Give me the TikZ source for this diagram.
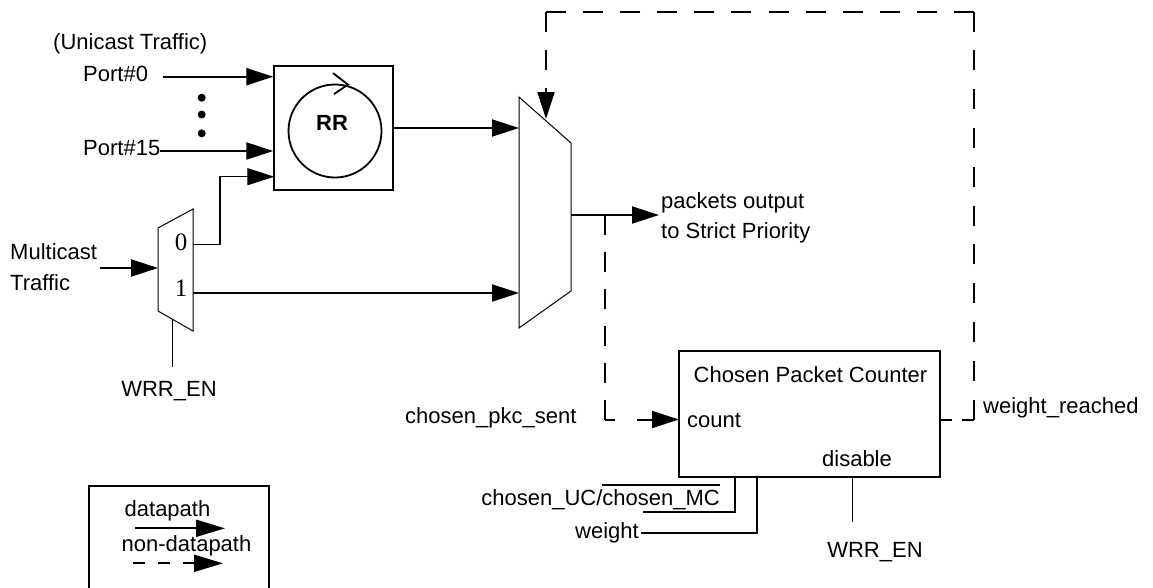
\documentclass[tikz,border=0pt]{standalone}
\usepackage{fontspec}
\setmainfont{Liberation Sans}
\newfontfamily\serifdig{Liberation Serif}
\usetikzlibrary{arrows.meta}
\begin{document}
\begin{tikzpicture}[x=1pt,y=-1pt,
  font=\fontsize{22}{30}\selectfont,
  lbl/.style={inner sep=0pt, anchor=base west},
  tipbig/.style={-{Triangle[length=27pt,width=17pt]}},
  dat/.style={line width=2pt, tipbig},
  dsh/.style={line width=2pt, dash pattern=on 20pt off 18pt},
  legdash/.style={line width=2pt, dash pattern=on 12pt off 13pt, -{Triangle[length=29pt,width=17pt]}},
  legsolid/.style={line width=2pt, -{Triangle[length=29pt,width=17pt]}},
  muxline/.style={line width=1pt},
  wire/.style={line width=2pt},
  digit/.style={inner sep=0pt, anchor=base, font=\serifdig\fontsize{25}{25}\selectfont}]
\useasboundingbox (0,0) rectangle (1153,587);

% ---------- unicast inputs ----------
\node[lbl] (uni) at (53,49) {(Unicast Traffic)};
\node[lbl] (p0) at (83,81) {Port\#0};
\node[lbl] (p15) at (83,155) {Port\#15};
\fill (201.7,97.7) circle[radius=4pt];
\fill (201.7,114.5) circle[radius=4pt];
\fill (201.7,133.3) circle[radius=4pt];

% ---------- RR box ----------
\node[draw, line width=2pt, minimum width=119pt, minimum height=124pt, inner sep=0pt] (rr) at (333.8,127.9) {};
\node[draw, circle, line width=1.8pt, minimum size=93pt, inner sep=0pt] (ring) at (335,131) {};
\draw[line width=1.8pt] ([shift={(-2,-10.5)}]ring.north) -- ([shift={(13,1)}]ring.north) -- ([shift={(-1,10.5)}]ring.north);
\node[inner sep=0pt, anchor=base] (rrtxt) at (332,130) {\bfseries RR};

\coordinate (p0s) at (163,76.7);
\coordinate (p15s) at (160,151);
\draw[dat] (p0s) -- (p0s -| rr.west);
\draw[dat] (p15s) -- (p15s -| rr.west);

% ---------- small demux ----------
\draw[muxline] (158,228) -- (193,209) -- (193,331) -- (158,311) -- cycle;
\coordinate (smin) at (158,268);
\coordinate (sm0) at (193,244.3);
\coordinate (sm1) at (193,293);
\coordinate (smsel) at (172.7,318.5);
\coordinate (rrin3) at (274.3,176.7);
\node[digit] (d0) at (181,250.7) {0};
\node[digit] (d1) at (181,296.7) {1};
\node[lbl] (mc1) at (10,259.3) {Multicast};
\node[lbl] (mc2) at (10,290) {Traffic};
\coordinate (mcs) at (100,268);
\draw[dat] (mcs) -- (smin);
\draw[line width=1.2pt, tipbig] (sm0) -- ++(27,0) |- (rrin3);
\node[inner sep=0pt, anchor=base] (wrr1) at (169,396) {WRR\_EN};
\draw[line width=1.5pt] (smsel) -- (172.7,367);

% ---------- big mux ----------
\draw[muxline] (519,97) -- (571,143) -- (571,291) -- (519,328) -- cycle;
\coordinate (bmin0) at (519,128);
\coordinate (bmin1) at (519,293);
\coordinate (bmout) at (571,215);
\coordinate (bmtop) at (546,119);
\draw[dat] (rr.east |- bmin0) -- (bmin0);
\draw[wire, tipbig] (sm1) -- (bmin1);
\coordinate (pkt) at (659,215);
\draw[dat] (bmout) -- (pkt);
\node[lbl] (po1) at (661,208.3) {packets output};
\node[lbl] (po2) at (661,238.3) {to Strict Priority};

% ---------- counter ----------
\node[draw, line width=2pt, minimum width=261pt, minimum height=126pt, inner sep=0pt] (cnt) at (809.5,413.5) {};
\node[inner sep=0pt, anchor=base] (cnttitle) at (810.5,382.3) {Chosen Packet Counter};
\node[lbl] (cntcount) at (687,427.3) {count};
\node[inner sep=0pt, anchor=base] (cntdis) at (857,466) {disable};

% chosen_pkc_sent (non-datapath)
\coordinate (tap) at (605,215);
\coordinate (lc) at (605,419.5);
\coordinate (cntin) at (679,419.5);
\draw[line width=2pt, dash pattern=on 20pt off 16.9pt] (lc) -- (tap);
\draw[line width=2pt, dash pattern=on 10pt off 22pt on 200pt, tipbig] (lc) -- (cntin);
\node[lbl] (cps) at (405,423.3) {chosen\_pkc\_sent};

% weight_reached (non-datapath)
\coordinate (cntout) at (940,419.5);
\coordinate (rc1) at (974,419.5);
\coordinate (rc2) at (974,12);
\coordinate (rc3) at (546,12);
\draw[line width=2pt, dash pattern=on 12pt off 10pt on 20pt] (cntout) -- (rc1);
\draw[line width=2pt, dash pattern=on 20pt off 18.8pt] (rc1) -- (rc2);
\draw[line width=2pt, dash pattern=on 20pt off 17.1pt] (rc2) -- (rc3);
\draw[dsh, tipbig] (rc3) -- (bmtop);
\node[lbl] (wr) at (983,413) {weight\_reached};

\coordinate (dis) at (852.7,476.5);
\draw[line width=1.5pt] (dis) -- (852.7,522);
\node[inner sep=0pt, anchor=base] (wrr2) at (875,557.7) {WRR\_EN};

\node[inner sep=0pt, anchor=base east] (cuc) at (720,505) {chosen\_UC/chosen\_MC};
\draw[wire] (602,485) -- (720,485);
\coordinate (cb1) at (735,476.5);
\draw[wire] (cb1) -- (735,512) -- (643,512);
\node[inner sep=0pt, anchor=base east] (wt) at (639,538.3) {weight};
\coordinate (cb2) at (757,476.5);
\draw[wire] (cb2) -- (757,533.3) -- (641,533.3);

% ---------- legend ----------
\draw[wire] (89,592) -- (89,486) -- (269,486) -- (269,592);
\node[inner sep=0pt, anchor=base] (lg1) at (167.5,516.7) {datapath};
\node[inner sep=0pt, anchor=base] (lg2) at (186.5,551.7) {non-datapath};
\coordinate (la1) at (135,528.3);
\coordinate (la2) at (225,528.3);
\coordinate (lb1) at (133,563.3);
\coordinate (lb2) at (223,563.3);
\draw[legsolid] (la1) -- (la2);
\draw[legdash] (lb1) -- (lb2);
\end{tikzpicture}
\end{document}
